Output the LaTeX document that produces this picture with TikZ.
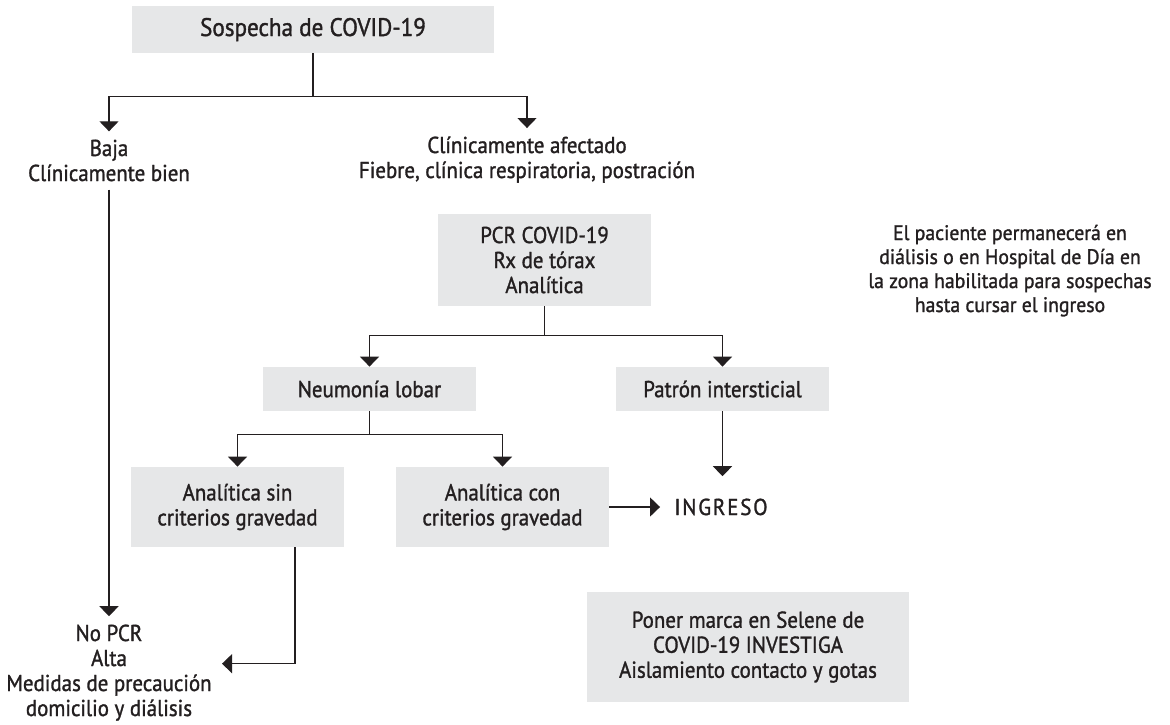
\documentclass[tikz,border=0pt]{standalone}
\usepackage{fontspec}
\setmainfont{PT Sans}[FakeStretch=0.91, FakeBold=1.3]
\newfontfamily\notefont{PT Sans}[FakeStretch=0.94, FakeBold=1.3]
\usetikzlibrary{arrows.meta}
\definecolor{inkgrey}{HTML}{231F20}
\definecolor{boxgrey}{HTML}{E6E7E8}
\tikzset{
        treenode/.style={align=center, inner sep=5pt, text=inkgrey, font=\fontsize{11.5}{12.5}\selectfont},
        % Grey boxes
        node_box/.style={treenode, rectangle, fill=boxgrey, minimum width=106.5pt},
        % Plain text (placed by its last baseline)
        node_text/.style={treenode, anchor=base},
        % Connectors
        line_conn/.style={draw=inkgrey, line width=0.6pt},
        arrow_conn/.style={line_conn, -{Triangle[width=9.5pt, length=5pt]}}
}
\begin{document}
\begin{tikzpicture}[x=0.5pt, y=-0.5pt]
    \useasboundingbox (0,0) rectangle (1170,724);

    \node[node_box, minimum width=181pt, minimum height=23.5pt, font=\fontsize{12.7}{14}\selectfont] (covid) at (313,29.5) {Sospecha de COVID-19};
    \node[node_text, inner ysep=4pt] (baja) at (109,181) {Baja\\Clínicamente bien};
    \node[node_text, inner ysep=4pt] (afectado) at (527,178) {Clínicamente afectado\\Fiebre, clínica respiratoria, postración};
    \node[node_box, minimum height=46pt] (pcr) at (544.5,260) {PCR COVID-19\\Rx de tórax\\Analítica};
    \node[node_box, minimum height=22pt] (neumonia) at (369.5,389) {Neumonía lobar};
    \node[node_box, minimum height=22pt] (patron) at (722.5,389) {Patrón intersticial};
    \node[node_box, minimum height=40pt] (sin) at (237.5,507) {Analítica sin\\criterios gravedad};
    \node[node_box, minimum height=40pt] (con) at (502.5,507) {Analítica con\\criterios gravedad};
    \node[node_text, inner xsep=7pt, inner ysep=11pt] (ingreso) at (721,515) {\addfontfeature{LetterSpace=8}INGRESO};
    \node[node_text, inner ysep=4pt] (alta) at (109,716) {No PCR\\Alta\\Medidas de precaución\\domicilio y diálisis};
    \node[node_box, minimum width=161pt, minimum height=55pt] (poner) at (748,647) {Poner marca en Selene de\\COVID-19 INVESTIGA\\Aislamiento contacto y gotas};
    \node[node_text, font=\notefont\fontsize{10.5}{12}\selectfont] (nota) at (1010,312) {El paciente permanecerá en\\diálisis o en Hospital de Día en\\la zona habilitada para sospechas\\hasta cursar el ingreso};

    % First split
    \draw[line_conn] (covid.south) -- ++(0,43) coordinate (split1);
    \draw[arrow_conn] (split1) -| (baja.north);
    \draw[arrow_conn] (split1) -| (afectado.north);
    \draw[arrow_conn] (baja.south) -- (alta.north);

    % Tests
    \draw[line_conn] (pcr.south) -- ++(0,29) coordinate (split2);
    \draw[arrow_conn] (split2) -| (neumonia.north);
    \draw[arrow_conn] (split2) -| (patron.north);
    \draw[line_conn] (neumonia.south) -- ++(0,23) coordinate (split3);
    \draw[arrow_conn] (split3) -| (sin.north);
    \draw[arrow_conn] (split3) -| (con.north);

    % Outcomes
    \draw[arrow_conn] (patron.south) -- (patron.south |- ingreso.north);
    \draw[arrow_conn] (con.east) -- (ingreso.west |- con.east);
    \draw[arrow_conn] ([xshift=28.75pt]sin.south) |- ([yshift=4.5pt]alta.east);
\end{tikzpicture}
\end{document}
